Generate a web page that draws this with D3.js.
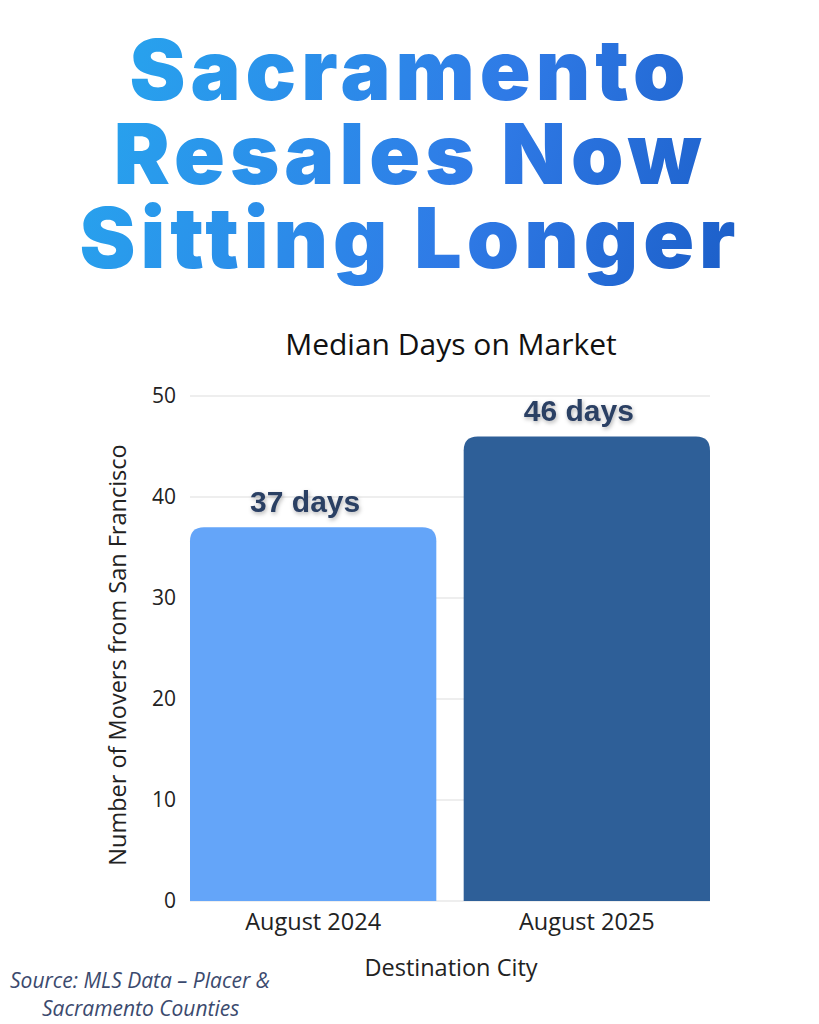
<!DOCTYPE html>
<html lang="en">
<head>
<meta charset="UTF-8">
<title>Sacramento Resales</title>
<style>
  body { margin: 0; background: #fff; }
</style>
</head>
<body>
<script src="https://cdn.jsdelivr.net/npm/d3@7"></script>
<script>
var titleLines = ['Sacramento', 'Resales Now', 'Sitting Longer'];
var categories = ['August 2024', 'August 2025'];
var values = [37, 46];
var valueLabels = ['37 days', '46 days'];
var yTicks = [0, 10, 20, 30, 40, 50];
var barColors = ['#64a5f9', '#2e5f98'];

var svg = d3.select('body').append('svg')
    .attr('width', 819)
    .attr('height', 1024);

var defs = svg.append('defs');
var grad = defs.append('linearGradient')
    .attr('id', 'tgrad')
    .attr('gradientUnits', 'userSpaceOnUse')
    .attr('x1', 90).attr('y1', 40).attr('x2', 730).attr('y2', 280);
grad.append('stop').attr('offset', '0%').attr('stop-color', '#27a6ee');
grad.append('stop').attr('offset', '60%').attr('stop-color', '#2f7ae6');
grad.append('stop').attr('offset', '100%').attr('stop-color', '#1c5fc9');

var shadow = defs.append('filter').attr('id', 'shadow')
    .attr('x', '-20%').attr('y', '-40%').attr('width', '140%').attr('height', '180%');
shadow.append('feDropShadow')
    .attr('dx', 1).attr('dy', 2).attr('stdDeviation', 2)
    .attr('flood-color', '#000').attr('flood-opacity', 0.3);

// title
svg.selectAll('text.title')
    .data(titleLines)
    .enter()
    .append('text')
    .attr('class', 'title')
    .attr('x', 410)
    .attr('y', function(d, i) { return 100 + i * 84; })
    .attr('text-anchor', 'middle')
    .style('font-family', 'Inter, "Noto Sans", sans-serif')
    .style('font-weight', 900)
    .style('font-size', '84px')
    .style('letter-spacing', '5px')
    .attr('fill', 'url(#tgrad)')
    .text(function(d) { return d; });

var x = d3.scaleBand().domain(categories).range([190, 710]).paddingInner(0.1).paddingOuter(0);
var y = d3.scaleLinear().domain([0, 50]).range([901, 396]);

// gridlines
svg.selectAll('line.grid')
    .data(yTicks)
    .enter()
    .append('line')
    .attr('x1', 190).attr('x2', 710)
    .attr('y1', function(d) { return y(d); })
    .attr('y2', function(d) { return y(d); })
    .attr('stroke', '#dddddd')
    .attr('stroke-width', 1);

// bars with rounded top
var r = 14;
svg.selectAll('path.bar')
    .data(values)
    .enter()
    .append('path')
    .attr('d', function(d, i) {
        var x0 = x(categories[i]), w = x.bandwidth(), top = y(d), bot = y(0);
        return 'M' + x0 + ',' + bot + 'V' + (top + r) +
            'Q' + x0 + ',' + top + ' ' + (x0 + r) + ',' + top +
            'H' + (x0 + w - r) +
            'Q' + (x0 + w) + ',' + top + ' ' + (x0 + w) + ',' + (top + r) +
            'V' + bot + 'Z';
    })
    .attr('fill', function(d, i) { return barColors[i]; });

// value labels
svg.selectAll('text.val')
    .data(values)
    .enter()
    .append('text')
    .attr('x', function(d, i) { return x(categories[i]) + x.bandwidth() / 2 - 8; })
    .attr('y', function(d) { return y(d) - 15; })
    .attr('text-anchor', 'middle')
    .attr('filter', 'url(#shadow)')
    .style('font-family', '"Liberation Sans", Arial, sans-serif')
    .style('font-weight', 'bold')
    .style('font-size', '30px')
    .attr('fill', '#2b3f64')
    .text(function(d, i) { return valueLabels[i]; });

var font = '"Open Sans", "Noto Sans", sans-serif';

// y axis
var yAxis = svg.append('g')
    .attr('transform', 'translate(190,0)')
    .call(d3.axisLeft(y).tickValues(yTicks).tickSize(0).tickPadding(14));
yAxis.select('.domain').remove();
yAxis.selectAll('text').style('font-family', font).style('font-size', '21px').attr('fill', '#222');

// x axis
var xAxis = svg.append('g')
    .attr('transform', 'translate(0,901)')
    .call(d3.axisBottom(x).tickSize(0).tickPadding(12));
xAxis.select('.domain').remove();
xAxis.selectAll('text').style('font-family', font).style('font-size', '23.5px').attr('fill', '#222');

// titles
svg.append('text')
    .attr('x', 451).attr('y', 355)
    .attr('text-anchor', 'middle')
    .style('font-family', font).style('font-size', '30px').attr('fill', '#111')
    .text('Median Days on Market');

svg.append('text')
    .attr('x', 451).attr('y', 976)
    .attr('text-anchor', 'middle')
    .style('font-family', font).style('font-size', '23.5px').attr('fill', '#222')
    .text('Destination City');

svg.append('text')
    .attr('transform', 'translate(126,655) rotate(-90)')
    .attr('text-anchor', 'middle')
    .style('font-family', font).style('font-size', '23.5px').attr('fill', '#222')
    .text('Number of Movers from San Francisco');

// source
var src = svg.append('text')
    .style('font-family', font).style('font-style', 'italic')
    .style('font-size', '21px').attr('fill', '#3b4a6e');
src.append('tspan').attr('x', 10).attr('y', 988).text('Source: MLS Data \u2013 Placer &');
src.append('tspan').attr('x', 42).attr('y', 1016).text('Sacramento Counties');
</script>
</body>
</html>
